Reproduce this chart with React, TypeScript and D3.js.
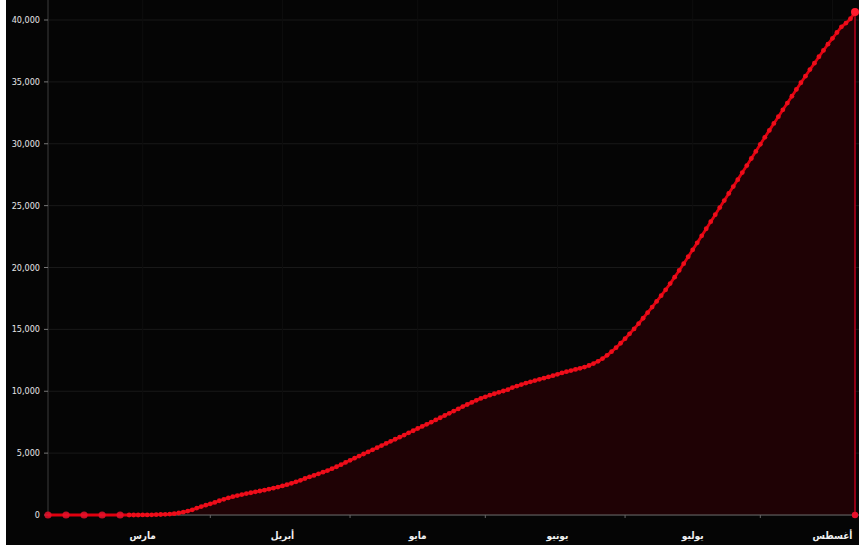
import * as d3 from "d3";

// sparse early reports (all zero), then one value per day from Feb 27
const earlyDates = ["2020-02-09", "2020-02-13", "2020-02-17", "2020-02-21", "2020-02-25"];
const earlyValues = [0, 0, 0, 0, 0];
const dailyStart = "2020-02-27";
const febValues = [1, 1, 2];
const marValues = [
  5, 10, 15, 25, 40, 55, 75, 110, 160, 230, 320, 420, 560, 680, 790, 900,
  1020, 1150, 1270, 1380, 1480, 1570, 1650, 1730, 1800, 1870, 1940, 2010, 2090, 2170, 2260,
];
const aprValues = [
  2350, 2450, 2560, 2680, 2800, 2950, 3080, 3200, 3330, 3460, 3590, 3740, 3900, 4070, 4250,
  4420, 4590, 4760, 4930, 5100, 5270, 5440, 5610, 5780, 5950, 6120, 6290, 6460, 6640, 6810,
];
const mayValues = [
  6990, 7160, 7330, 7500, 7680, 7860, 8040, 8220, 8400, 8570, 8760, 8930, 9100, 9270, 9420,
  9550, 9680, 9800, 9910, 10020, 10130, 10300, 10420, 10540, 10660, 10760, 10860, 10960, 11060, 11160, 11260,
];
const junValues = [
  11370, 11480, 11580, 11670, 11760, 11850, 11950, 12080, 12240, 12420, 12640, 12900, 13200, 13520, 13880,
  14250, 14640, 15040, 15460, 15900, 16350, 16800, 17260, 17720, 18200, 18700, 19220, 19760, 20310, 20870,
];
const julValues = [
  21430, 21990, 22560, 23130, 23700, 24270, 24840, 25410, 25980, 26540, 27100, 27670, 28240, 28810, 29380,
  29950, 30520, 31080, 31640, 32190, 32740, 33290, 33840, 34390, 34930, 35460, 35990, 36510, 37030, 37540, 38050,
];
const augValues = [38520, 38990, 39450, 39750, 40100, 40650];

const monthLabels = ["مارس", "أبريل", "مايو", "يونيو", "يوليو", "أغسطس"];
const monthStarts = ["2020-03-01", "2020-04-01", "2020-05-01", "2020-06-01", "2020-07-01", "2020-08-01"];
const minorTicks = ["2020-03-16", "2020-04-16", "2020-05-16", "2020-06-16", "2020-07-16"];
const yTicks = [0, 5000, 10000, 15000, 20000, 25000, 30000, 35000, 40000];

type Pt = { date: Date; value: number };

const parse = d3.utcParse("%Y-%m-%d");
const early: Pt[] = earlyDates.map((s, i) => ({ date: parse(s)!, value: earlyValues[i] }));
const dailyValues = [...febValues, ...marValues, ...aprValues, ...mayValues, ...junValues, ...julValues, ...augValues];
const daily: Pt[] = dailyValues.map((v, i) => ({ date: d3.utcDay.offset(parse(dailyStart)!, i), value: v }));
const data: Pt[] = [...early, ...daily];

const W = 859;
const H = 551;

export default function App() {
  const x = d3.scaleUtc()
    .domain([parse("2020-02-09")!, parse("2020-08-06")!])
    .range([48, 855]);
  const y = d3.scaleLinear().domain([0, 40000]).range([515, 20]);

  const line = d3.line<Pt>().x(d => x(d.date)).y(d => y(d.value));
  const area = d3.area<Pt>().x(d => x(d.date)).y0(y(0)).y1(d => y(d.value));
  const last = data[data.length - 1];
  const fmt = d3.format(",");

  return (
    <svg width={W} height={H} style={{ display: "block", position: "absolute", left: 0, top: 0 }}>
      <rect x={0} y={0} width={W} height={H} fill="#ffffff" />
      <rect x={6} y={0} width={W - 6} height={545} fill="#050505" />

      {/* horizontal grid */}
      {yTicks.map(t => (
        <line key={"g" + t} x1={48} x2={W} y1={y(t)} y2={y(t)} stroke="#191919" strokeWidth={1} />
      ))}
      {/* faint vertical grid */}
      {monthStarts.map(s => (
        <line key={"v" + s} x1={x(parse(s)!)} x2={x(parse(s)!)} y1={0} y2={y(0)} stroke="#0e0e0e" />
      ))}

      <path d={area(data)!} fill="#1f0205" />

      {/* axes */}
      <line x1={48} x2={48} y1={0} y2={y(0)} stroke="#2a2a2a" strokeWidth={1.5} />
      <line x1={48} x2={W} y1={y(0)} y2={y(0)} stroke="#6a6a6a" strokeWidth={1.2} />
      {yTicks.map(t => (
        <g key={"yt" + t}>
          <line x1={44} x2={48} y1={y(t)} y2={y(t)} stroke="#777" />
          <text x={40} y={y(t) + 3} textAnchor="end" fill="#e6e6e6" fontSize={9}
            fontFamily="'Liberation Sans Narrow', 'DejaVu Sans Condensed', sans-serif">
            {fmt(t)}
          </text>
        </g>
      ))}
      {minorTicks.map(s => (
        <line key={"m" + s} x1={x(parse(s)!)} x2={x(parse(s)!)} y1={y(0)} y2={y(0) + 3} stroke="#666" />
      ))}
      {monthLabels.map((m, i) => (
        <text key={m} x={x(parse(monthStarts[i])!)} y={539} textAnchor="middle" fill="#f0f0f0"
          fontSize={10} fontWeight="bold" fontFamily="'DejaVu Sans Condensed', 'DejaVu Sans', sans-serif">
          {m}
        </text>
      ))}

      {/* series */}
      <path d={line(data)!} fill="none" stroke="#e0000f" strokeWidth={2.8} />
      {early.map(d => (
        <circle key={"e" + d.date.getTime()} cx={x(d.date)} cy={y(d.value)} r={3.6} fill="#e8102a" opacity={0.85} />
      ))}
      {daily.map(d => (
        <circle key={"d" + d.date.getTime()} cx={x(d.date)} cy={y(d.value)} r={2.4} fill="#ee0d1a" />
      ))}

      {/* highlighted last point */}
      <line x1={x(last.date)} x2={x(last.date)} y1={y(last.value)} y2={y(0)} stroke="#b0001a" strokeWidth={1.6} />
      <circle cx={x(last.date)} cy={y(last.value)} r={4} fill="#ff1a2e" />
      <circle cx={x(last.date)} cy={y(0)} r={3.2} fill="#e8102a" />
    </svg>
  );
}
